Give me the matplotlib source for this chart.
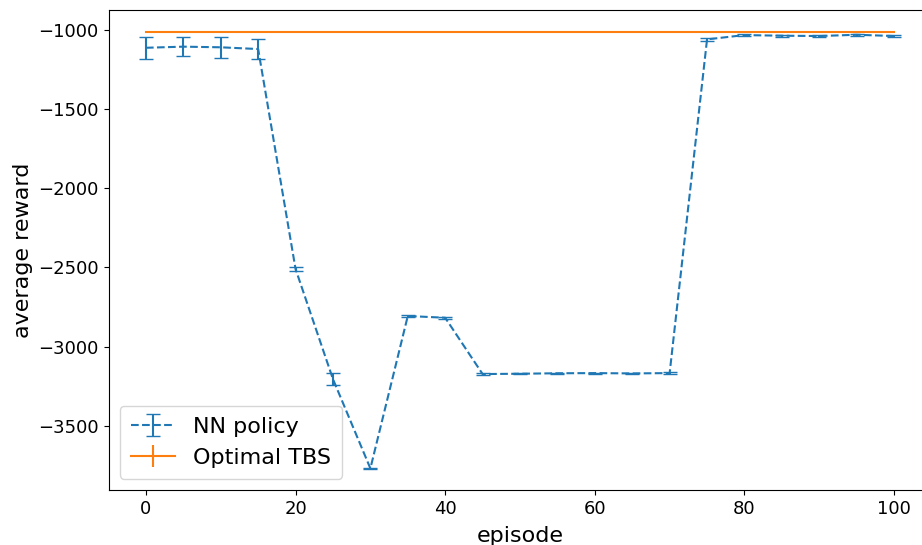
import matplotlib
matplotlib.use("Agg")
import matplotlib.pyplot as plt
import numpy as np

episodes = [0, 5, 10, 15, 20, 25, 30, 35, 40, 45, 50, 55, 60, 65, 70, 75, 80, 85, 90, 95, 100]
nn_reward = [-1115, -1108, -1112, -1123, -2510, -3204, -3767, -2806, -2817, -3172, -3170,
             -3167, -3166, -3168, -3166, -1062, -1035, -1039, -1041, -1033, -1041]
nn_err = [70, 61, 66, 64, 11, 37, 5, 5, 5, 4, 3, 3, 3, 3, 4, 8, 6, 6, 6, 5, 5]
opt_episodes = [0, 100]
opt_reward = [-1018, -1018]
opt_err = [0, 0]

fig = plt.figure(figsize=(9.22, 5.45), dpi=100)
ax = fig.add_axes([0.1177, 0.1009, 0.8926, 0.8813])

ax.errorbar(episodes, nn_reward, yerr=nn_err, linestyle='--', capsize=5,
            color='#1f77b4', label='NN policy')
ax.errorbar(opt_episodes, opt_reward, yerr=opt_err, color='#ff7f0e', label='Optimal TBS')

ax.set_xlim(-5, 105)
ax.set_ylim(-3903, -875)
ax.set_xticks([0, 20, 40, 60, 80, 100])
ax.set_yticks([-1000, -1500, -2000, -2500, -3000, -3500])
ax.tick_params(labelsize=13)
ax.set_xlabel('episode', fontsize=16, labelpad=6)
ax.set_ylabel('average reward', fontsize=16)
ax.legend(loc='lower left', fontsize=16, borderpad=0.5)

fig.savefig('out.png', dpi=100)
